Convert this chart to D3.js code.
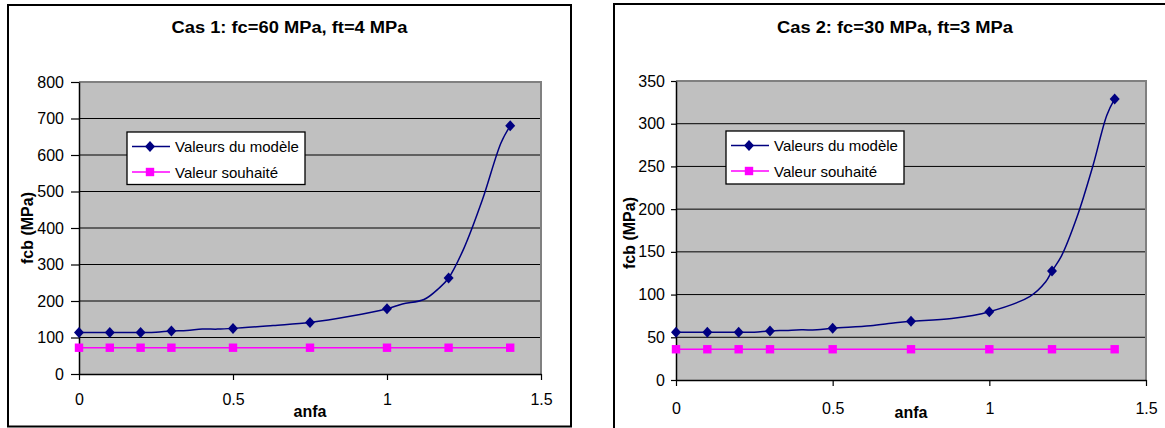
<!DOCTYPE html>
<html>
<head>
<meta charset="utf-8">
<script src="https://cdn.jsdelivr.net/npm/d3@7"></script>
<style>
  html, body { margin: 0; padding: 0; background: #fff; }
  svg { display: block; font-family: Arial, "Liberation Sans", sans-serif; }
</style>
</head>
<body>
<svg id="chart" width="1165" height="428"></svg>
<script>
// ---------- DATA ----------
const anfaMarkers = [0, 0.1, 0.2, 0.3, 0.5, 0.75, 1, 1.2, 1.4];
const seriesNames = ["Valeurs du modèle", "Valeur souhaité"];
const xTickValues = [0, 0.5, 1, 1.5];

// Cas 1
const title1 = "Cas 1: fc=60 MPa, ft=4 MPa";
const modele1 = [114, 114, 114, 118, 125, 141, 179, 263, 680];
const souhaite1 = [72, 72, 72, 72, 72, 72, 72, 72, 72];
const lineAnfa1 = [0, 0.1, 0.2, 0.25, 0.3, 0.35, 0.4, 0.45, 0.5, 0.63, 0.75, 0.88, 1, 1.05, 1.12, 1.17, 1.2, 1.25, 1.31, 1.37, 1.4];
const lineFcb1 = [114, 114, 114, 114.5, 118, 119, 123, 123, 125, 133, 141, 158, 179, 192, 204, 236, 263, 345, 478, 633, 680];
const yTicks1 = [0, 100, 200, 300, 400, 500, 600, 700, 800];

// Cas 2
const title2 = "Cas 2: fc=30 MPa, ft=3 MPa";
const modele2 = [56, 56, 56, 57.4, 60.5, 68.7, 80, 127.6, 329];
const souhaite2 = [36, 36, 36, 36, 36, 36, 36, 36, 36];
const lineAnfa2 = [0, 0.1, 0.2, 0.25, 0.3, 0.35, 0.4, 0.45, 0.5, 0.62, 0.7, 0.75, 0.88, 1, 1.13, 1.18, 1.2, 1.23, 1.28, 1.33, 1.375, 1.4];
const lineFcb2 = [56, 56, 56, 56, 57.4, 58, 58.7, 58.7, 60.5, 63.5, 67, 68.7, 72, 80, 98, 115, 127.6, 145, 191, 250, 310, 329];
const yTicks2 = [0, 50, 100, 150, 200, 250, 300, 350];

const xTitle = "anfa";
const yTitle = "fcb (MPa)";

// ---------- DRAW ----------
const svg = d3.select("#chart");
const NAVY = "#000080", MAGENTA = "#FF00FF";
const diamond = "M0,-5.5L5,0L0,5.5L-5,0Z";
const SQ = 8.4;

function drawChart(cfg) {
  const g = svg.append("g");
  // outer frame
  g.append("rect").attr("x", cfg.frame[0]).attr("y", cfg.frame[1])
    .attr("width", cfg.frame[2]).attr("height", cfg.frame[3])
    .attr("fill", "#fff").attr("stroke", "#000").attr("stroke-width", 2);

  const x = d3.scaleLinear().domain([0, 1.5]).range([cfg.x0, cfg.x1]);
  const y = d3.scaleLinear().domain([0, d3.max(cfg.yTicks)]).range([cfg.yb, cfg.yt]);

  // plot area
  g.append("rect").attr("x", cfg.x0).attr("y", cfg.yt)
    .attr("width", cfg.x1 - cfg.x0).attr("height", cfg.yb - cfg.yt)
    .attr("fill", "#c0c0c0");

  // gridlines
  g.append("g").selectAll("line").data(cfg.yTicks.filter(t => t > 0 && t < d3.max(cfg.yTicks)))
    .join("line")
    .attr("x1", cfg.x0).attr("x2", cfg.x1)
    .attr("y1", d => y(d)).attr("y2", d => y(d))
    .attr("stroke", "#000").attr("stroke-width", 1);

  // plot border top/right (gray)
  g.append("path")
    .attr("d", `M${cfg.x0},${cfg.yt}H${cfg.x1}V${cfg.yb}`)
    .attr("fill", "none").attr("stroke", "#808080").attr("stroke-width", 2);

  // y axis
  const ya = g.append("g").attr("transform", `translate(${cfg.x0},0)`)
    .call(d3.axisLeft(y).tickValues(cfg.yTicks).tickSize(cfg.yTickSize).tickPadding(cfg.yTickPad).tickSizeOuter(0));
  ya.select(".domain").attr("stroke", "#000").attr("stroke-width", 1.5);
  ya.selectAll(".tick line").attr("stroke", "#000").attr("stroke-width", 1.2);
  ya.selectAll(".tick text").attr("font-size", 16).attr("fill", "#000")
    .attr("font-family", "Arial, 'Liberation Sans', sans-serif");

  // x axis
  const xa = g.append("g").attr("transform", `translate(0,${cfg.yb})`)
    .call(d3.axisBottom(x).tickValues(xTickValues).tickFormat(d => String(d))
      .tickSize(6).tickPadding(cfg.xTickPad).tickSizeOuter(0));
  xa.select(".domain").attr("stroke", "#000").attr("stroke-width", 1.5);
  xa.selectAll(".tick line").attr("stroke", "#000").attr("stroke-width", 1.2);
  xa.selectAll(".tick text").attr("font-size", 16).attr("fill", "#000")
    .attr("font-family", "Arial, 'Liberation Sans', sans-serif");

  // souhaité series
  const sData = anfaMarkers.map((a, i) => [a, cfg.souhaite[i]]);
  g.append("path").datum(sData)
    .attr("d", d3.line().x(d => x(d[0])).y(d => y(d[1])))
    .attr("fill", "none").attr("stroke", MAGENTA).attr("stroke-width", 1.5);
  g.append("g").selectAll("rect").data(sData).join("rect")
    .attr("x", d => x(d[0]) - SQ / 2).attr("y", d => y(d[1]) - SQ / 2)
    .attr("width", SQ).attr("height", SQ).attr("fill", MAGENTA);

  // modèle series
  const lData = cfg.lineAnfa.map((a, i) => [a, cfg.lineFcb[i]]);
  g.append("path").datum(lData)
    .attr("d", d3.line().curve(d3.curveCatmullRom.alpha(0.5)).x(d => x(d[0])).y(d => y(d[1])))
    .attr("fill", "none").attr("stroke", NAVY).attr("stroke-width", 1.5);
  const mData = anfaMarkers.map((a, i) => [a, cfg.modele[i]]);
  g.append("g").selectAll("path").data(mData).join("path")
    .attr("d", diamond)
    .attr("transform", d => `translate(${x(d[0])},${y(d[1])})`)
    .attr("fill", NAVY);

  // legend
  const L = cfg.legend; // [x, y, w, h]
  const lg = g.append("g");
  lg.append("rect").attr("x", L[0]).attr("y", L[1]).attr("width", L[2]).attr("height", L[3])
    .attr("fill", "#fff").attr("stroke", "#000").attr("stroke-width", 1.3);
  const rows = [
    { name: seriesNames[0], color: NAVY, sym: "diamond", dy: 14.5 },
    { name: seriesNames[1], color: MAGENTA, sym: "square", dy: 40 }
  ];
  rows.forEach(r => {
    const cy = L[1] + r.dy;
    lg.append("line").attr("x1", L[0] + 5).attr("x2", L[0] + 43)
      .attr("y1", cy).attr("y2", cy).attr("stroke", r.color).attr("stroke-width", 1.5);
    if (r.sym === "diamond") {
      lg.append("path").attr("d", diamond).attr("transform", `translate(${L[0] + 23},${cy})`).attr("fill", r.color);
    } else {
      lg.append("rect").attr("x", L[0] + 23 - SQ / 2).attr("y", cy - SQ / 2).attr("width", SQ).attr("height", SQ).attr("fill", r.color);
    }
    lg.append("text").attr("x", L[0] + 48).attr("y", cy + 5.5)
      .attr("font-size", 15).attr("fill", "#000").text(r.name);
  });

  // title
  g.append("text").attr("x", cfg.titleX).attr("y", 33)
    .attr("text-anchor", "middle").attr("font-size", 16).attr("font-weight", "bold")
    .attr("textLength", 236).attr("lengthAdjust", "spacingAndGlyphs")
    .text(cfg.title);

  // axis titles
  g.append("text").attr("x", cfg.xTitleX).attr("y", cfg.xTitleY)
    .attr("text-anchor", "middle").attr("font-size", 16).attr("font-weight", "bold").text(xTitle);
  g.append("text").attr("transform", `translate(${cfg.yTitleX},${cfg.yTitleY}) rotate(-90)`)
    .attr("text-anchor", "middle").attr("font-size", 16).attr("font-weight", "bold").text(yTitle);
}

drawChart({
  frame: [8, 5, 563, 421.5],
  x0: 79, x1: 541, yb: 374, yt: 82,
  yTicks: yTicks1, yTickSize: 8, yTickPad: 7, xTickPad: 13.5,
  souhaite: souhaite1, modele: modele1, lineAnfa: lineAnfa1, lineFcb: lineFcb1,
  legend: [127, 132, 178, 52.5],
  title: title1, titleX: 289.5,
  xTitleX: 310, xTitleY: 417, yTitleX: 33, yTitleY: 228
});

drawChart({
  frame: [614, 4, 600, 500],
  x0: 676, x1: 1146, yb: 380, yt: 81,
  yTicks: yTicks2, yTickSize: 5, yTickPad: 6, xTickPad: 16.5,
  souhaite: souhaite2, modele: modele2, lineAnfa: lineAnfa2, lineFcb: lineFcb2,
  legend: [726, 131, 178, 53],
  title: title2, titleX: 895,
  xTitleX: 911, xTitleY: 418, yTitleX: 634.5, yTitleY: 233
});
</script>
</body>
</html>
